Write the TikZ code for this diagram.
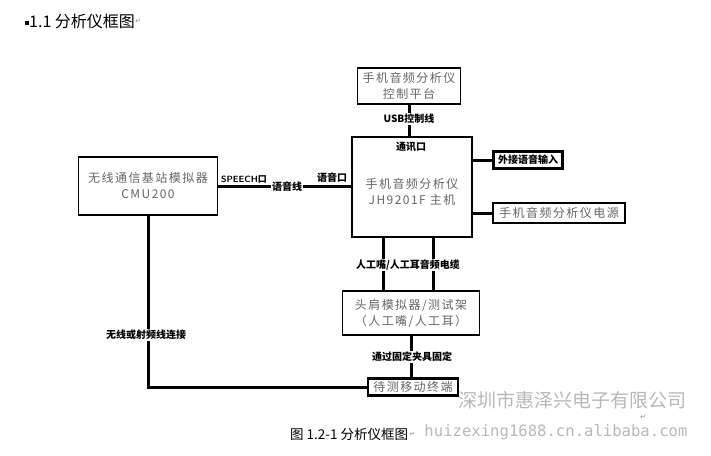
\documentclass[tikz,border=0pt]{standalone}
\usepackage{fontspec}
\setmainfont{Liberation Serif}
\newfontfamily\cjk{Noto Sans CJK SC}
\newfontfamily\cjkwide{Noto Sans CJK SC}[LetterSpace=12]
\newfontfamily\symfont{DejaVu Sans}
\newfontfamily\wmmono{DejaVu Sans Mono}

\begin{document}
\begin{tikzpicture}[
  x=1pt, y=-1pt,
  box/.style={draw, line width=1.6pt, fill=white, align=center,
              inner sep=0pt, text=black!60,
              font=\cjkwide\fontsize{12}{16}\selectfont},
  tagbox/.style={box, line width=2.2pt},
  wire/.style={line width=3pt},
  lbl/.style={fill=white, inner sep=1pt,
              font=\cjk\fontsize{10}{12}\selectfont\bfseries},
  retmark/.style={text=black!45, font=\symfont\fontsize{7}{8}\selectfont,
               inner sep=0pt},
]
\useasboundingbox (0,0) rectangle (711,455);

% watermark
\node[text=black!28, font=\cjk\fontsize{19}{22}\selectfont, anchor=east]
  (wm1) at (690,400) {深圳市惠泽兴电子有限公司};
\node[text=black!28, font=\wmmono\fontsize{15.6}{18}\selectfont, anchor=east]
  (wm2) at (691,432) {huizexing1688.cn.alibaba.com};

% title
\node[anchor=west, inner sep=0pt, font=\cjk\fontsize{16}{18}\selectfont]
  (title) at (25,21) {\rule[0.25ex]{4pt}{4pt}1.1 分析仪框图};
\node[retmark, anchor=west] (titlemk) at (title.east) {↵};

% boxes
\node[box, minimum width=139, minimum height=58] (cmu) at (148,186)
  {无线通信基站模拟器\\CMU200};
\node[box, minimum width=103, minimum height=36] (ctl) at (409,86)
  {手机音频分析仪\\控制平台};
\node[box, minimum width=120, minimum height=100] (main) at (412,187) {};
\node[text=black!60, align=center, font=\cjkwide\fontsize{12}{16}\selectfont]
  (maintext) at (412,192) {手机音频分析仪\\JH9201F\ 主机};
\node[font=\cjk\fontsize{10}{12}\selectfont\bfseries] (port) at (411,147) {通讯口};
\node[tagbox, minimum width=69, minimum height=17, text=black,
      font=\cjk\fontsize{10}{12}\selectfont\bfseries] (ext) at (528,160) {外接语音输入};
\node[tagbox, minimum width=132, minimum height=20] (pwr) at (559,213)
  {手机音频分析仪电源};
\node[box, minimum width=137, minimum height=44] (hs) at (411,313)
  {头肩模拟器/测试架\\（人工嘴/人工耳）};
\node[tagbox, minimum width=90, minimum height=17] (dut) at (413,387)
  {待测移动终端};

% connectors
\draw[wire] (cmu.east) -- (cmu.east -| main.west);
\draw[wire] (ctl.south) -- (ctl.south |- main.north);
\draw[wire] (main.east |- ext.west) -- (ext.west);
\draw[wire] (main.east |- pwr.west) -- (pwr.west);
\draw[wire] ([xshift=-29pt]main.south) -- ([xshift=-29pt]main.south |- hs.north);
\draw[wire] ([xshift=21pt]main.south) -- ([xshift=21pt]main.south |- hs.north);
\draw[wire] (hs.south) -- (hs.south |- dut.north);
\draw[wire] (cmu.south) |- (dut.west);

% labels
\node[lbl, font=\sffamily\fontsize{9}{11}\selectfont\bfseries] (speech) at (244,179)
  {SPEECH{\cjk 口}};
\node[lbl] (voiceline) at (287,187) {语音线};
\node[lbl] (voiceport) at (332,178) {语音口};
\node[lbl] (usb) at (409,119) {USB控制线};
\node[lbl] (cable) at (408,265) {人工嘴/人工耳音频电缆};
\node[lbl] (fixture) at (412,357) {通过固定夹具固定};
\node[lbl] (rf) at (146,335) {无线或射频线连接};

% caption
\node[anchor=west, inner sep=0pt, font=\cjk\fontsize{13.5}{16}\selectfont]
  (caption) at (290,434) {图 1.2-1 分析仪框图};
\node[retmark, anchor=west] (capmk) at ([xshift=1pt]caption.east) {↵};
\node[retmark] (wmmk) at (643,417) {↵};
\end{tikzpicture}
\end{document}
